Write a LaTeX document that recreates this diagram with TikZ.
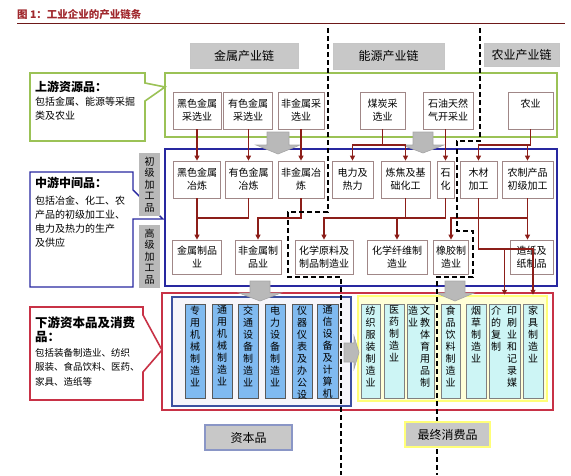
\documentclass[tikz,border=0pt]{standalone}
\usepackage{fontspec}
\setmainfont{Noto Sans CJK SC}
\usepackage{tikz}
\usetikzlibrary{arrows.meta, positioning}

\definecolor{pfeilrot}{RGB}{140,30,25}
\definecolor{kastenrand}{RGB}{160,135,135}
\definecolor{gruenrand}{RGB}{155,194,86}
\definecolor{blaurand}{RGB}{40,40,160}
\definecolor{rotrand}{RGB}{200,50,70}
\definecolor{innenblau}{RGB}{60,80,160}
\definecolor{innenfuell}{RGB}{246,245,250}
\definecolor{saeuleblau}{RGB}{128,186,240}
\definecolor{saeulecyan}{RGB}{205,245,245}
\definecolor{gelbrand}{RGB}{255,255,120}
\definecolor{gelbfuell}{RGB}{255,255,215}
\definecolor{titelrot}{RGB}{160,40,45}
\definecolor{titellinie}{RGB}{110,25,25}
\definecolor{kopfgrau}{RGB}{200,200,200}
\definecolor{seitengrau}{RGB}{185,185,185}

\tikzstyle{kasten} = [draw=kastenrand, fill=white, line width=0.7pt, align=center, inner sep=1pt, font=\fontsize{10}{13}\selectfont]
\tikzstyle{pfeil} = [pfeilrot, line width=1.1pt, -{Triangle[length=5pt,width=5pt]}]
\tikzstyle{linie} = [pfeilrot, line width=1.1pt]
\tikzstyle{grenze} = [line width=1.3pt, dash pattern=on 5pt off 3pt]
\tikzstyle{kopf} = [draw=gray!45, fill=kopfgrau, line width=0.8pt, font=\fontsize{12}{14}\selectfont]
\tikzstyle{seite} = [fill=seitengrau, minimum width=21pt, minimum height=63pt, inner sep=0pt, align=center, font=\fontsize{10}{11.5}\selectfont]
\tikzstyle{blausaeule} = [draw=black!65, fill=saeuleblau, line width=0.6pt, minimum width=20pt, minimum height=94pt, inner sep=0pt]
\tikzstyle{cyansaeule} = [draw=black!50, fill=saeulecyan, line width=0.6pt, minimum width=20pt, minimum height=94pt, inner sep=0pt]
\tikzstyle{saeulentext} = [anchor=north, align=center, inner sep=2pt, font=\fontsize{10}{12}\selectfont]
\tikzstyle{blockpfeil} = [fill=gray!55, draw=gray!70, line width=0.6pt]
\tikzstyle{sprechtext} = [anchor=north west, align=left, inner sep=0pt]

\begin{document}
\begin{tikzpicture}[x=1pt, y=-1pt]
\useasboundingbox (0,0) rectangle (571,475);

% Titel
\node[anchor=west, inner sep=0pt, text=titelrot, font=\fontsize{10.5}{12}\selectfont\bfseries] (titel) at (17,15) {图 1：工业企业的产业链条};
\draw[titellinie, line width=1pt] (17,23) -- (565,23);

% Kettenkoepfe
\node[kopf, minimum width=108pt, minimum height=25pt] (metall-kopf) at (244,55.5) {金属产业链};
\node[kopf, minimum width=111pt, minimum height=26pt] (energie-kopf) at (388.5,56) {能源产业链};
\node[kopf, minimum width=75pt, minimum height=23pt] (agrar-kopf) at (521.5,54.5) {农业产业链};

% Rahmen der drei Stufen
\node[draw=gruenrand, line width=1.8pt, minimum width=392pt, minimum height=64pt] (oben) at (361,105) {};
\node[draw=blaurand, line width=1.6pt, minimum width=392pt, minimum height=137pt] (mitte) at (361,217.5) {};
\node[draw=rotrand, line width=1.6pt, minimum width=391pt, minimum height=117pt] (unten) at (357.5,351.5) {};
\node[draw=innenblau, fill=innenfuell, line width=1.2pt, minimum width=179pt, minimum height=109pt] (kapital) at (261.5,351.5) {};
\node[draw=gelbrand, fill=gelbfuell, line width=2.5pt, minimum width=189pt, minimum height=105pt] (konsum) at (452.5,348.5) {};

% graue Blockpfeile
\filldraw[blockpfeil] (267,132) -- (289,132) -- (289,145) -- (300,145) -- (278,154) -- (256,145) -- (267,145) -- cycle;
\filldraw[blockpfeil] (413,132) -- (433,132) -- (433,145) -- (444,145) -- (423,153) -- (402,145) -- (413,145) -- cycle;
\filldraw[blockpfeil] (250,281) -- (270,281) -- (270,293) -- (281,293) -- (260,301) -- (239,293) -- (250,293) -- cycle;
\filldraw[blockpfeil] (445,281) -- (465,281) -- (465,293) -- (474,293) -- (455,301) -- (436,293) -- (445,293) -- cycle;
\filldraw[blockpfeil] (344,343) -- (354,343) -- (354,336) -- (359,352.5) -- (354,369) -- (354,362) -- (344,362) -- cycle;

% Rohstoffe
\node[kasten, minimum width=48pt, minimum height=37pt] (hei-cai) at (197,110.5) {黑色金属\\采选业};
\node[kasten, minimum width=49pt, minimum height=37pt] (you-cai) at (248,110.5) {有色金属\\采选业};
\node[kasten, minimum width=46pt, minimum height=37pt] (feijin-cai) at (301,110.5) {非金属采\\选业};
\node[kasten, minimum width=45pt, minimum height=37pt] (mei-cai) at (382.5,110.5) {煤炭采\\选业};
\node[kasten, minimum width=50pt, minimum height=37pt] (youqi-cai) at (448,110.5) {石油天然\\气开采业};
\node[kasten, minimum width=45pt, minimum height=37pt] (nong-cai) at (530.5,110.5) {农业\\\phantom{农业}};

% Erstverarbeitung
\node[kasten, minimum width=47pt, minimum height=37pt] (hei-lian) at (197,179.5) {黑色金属\\冶炼};
\node[kasten, minimum width=47pt, minimum height=37pt] (you-lian) at (248.5,179.5) {有色金属\\冶炼};
\node[kasten, minimum width=46pt, minimum height=37pt] (feijin-lian) at (301,179.5) {非金属冶\\炼};
\node[kasten, minimum width=41pt, minimum height=37pt] (dianli) at (352.5,179.5) {电力及\\热力};
\node[kasten, minimum width=49pt, minimum height=37pt] (lianjiao) at (405.5,179.5) {炼焦及基\\础化工};
\node[kasten, minimum width=17pt, minimum height=37pt] (shihua) at (445.5,179.5) {石\\化};
\node[kasten, minimum width=37pt, minimum height=37pt] (mucai) at (478.5,179.5) {木材\\加工};
\node[kasten, minimum width=51pt, minimum height=37pt] (nongpin) at (527.5,179.5) {农制产品\\初级加工};

% Weiterverarbeitung
\node[kasten, minimum width=49pt, minimum height=34pt] (jinshu-zp) at (197,257) {金属制品\\业};
\node[kasten, minimum width=46pt, minimum height=34pt] (feijin-zp) at (258,257) {非金属制\\品业};
\node[kasten, minimum width=58pt, minimum height=34pt] (huaxue-yl) at (324,257) {化学原料及\\制品制造业};
\node[kasten, minimum width=60pt, minimum height=34pt] (huaxue-xw) at (397,257) {化学纤维制\\造业};
\node[kasten, minimum width=35pt, minimum height=34pt] (xiangjiao) at (451,257) {橡胶制\\造业};
\node[kasten, minimum width=43pt, minimum height=34pt] (zaozhi) at (531.5,257) {造纸及\\纸制品};

% Kapitalgueter
\node[blausaeule] (zhuanyong) at (195,351) {};
\node[blausaeule] (tongyong) at (222,351) {};
\node[blausaeule] (jiaotong) at (248,351) {};
\node[blausaeule] (dianqi) at (275,351) {};
\node[blausaeule] (yiqi) at (302,351) {};
\node[blausaeule, minimum width=21pt] (tongxin) at (327.5,351) {};
\node[saeulentext] (zhuanyong-t) at (zhuanyong.north) {专\\用\\机\\械\\制\\造\\业};
\node[saeulentext] (tongyong-t) at (tongyong.north) {通\\用\\机\\械\\制\\造\\业};
\node[saeulentext] (jiaotong-t) at (jiaotong.north) {交\\通\\设\\备\\制\\造\\业};
\node[saeulentext] (dianqi-t) at (dianqi.north) {电\\力\\设\\备\\制\\造\\业};
\node[saeulentext] (yiqi-t) at (yiqi.north) {仪\\器\\仪\\表\\及\\办\\公\\设};
\node[saeulentext] (tongxin-t) at (tongxin.north) {通\\信\\设\\备\\及\\计\\算\\机};

% Konsumgueter
\node[cyansaeule, minimum width=19pt] (fangzhi) at (370.5,351) {};
\node[cyansaeule] (yiyao) at (394,351) {};
\node[cyansaeule, minimum width=27pt] (wenjiao) at (420.5,351) {};
\node[cyansaeule, minimum width=19pt] (shipin) at (450.5,351) {};
\node[cyansaeule] (yancao) at (476,351) {};
\node[cyansaeule, minimum width=31pt] (yinshua) at (504.5,351) {};
\node[cyansaeule] (jiaju) at (533,351) {};
\node[saeulentext] (fangzhi-t) at (fangzhi.north) {纺\\织\\服\\装\\制\\造\\业};
\node[saeulentext] (yiyao-t) at (yiyao.north) {医\\药\\制\\造\\业};
\node[saeulentext] (wenjiao-r) at (wenjiao.north -| 425,0) {文\\教\\体\\育\\用\\品\\制};
\node[saeulentext] (wenjiao-l) at (wenjiao.north -| 413,0) {造\\业};
\node[saeulentext] (shipin-t) at (shipin.north) {食\\品\\饮\\料\\制\\造\\业};
\node[saeulentext] (yancao-t) at (yancao.north) {烟\\草\\制\\造\\业};
\node[saeulentext] (yinshua-r) at (yinshua.north -| 512,0) {印\\刷\\业\\和\\记\\录\\媒};
\node[saeulentext] (yinshua-l) at (yinshua.north -| 496,0) {介\\的\\复\\制};
\node[saeulentext] (jiaju-t) at (jiaju.north) {家\\具\\制\\造\\业};

% Hilfspunkte fuer die Gabelungen
\coordinate (gabel-a) at (0,145);
\coordinate (gabel-b) at (0,218);
\coordinate (gabel-c) at (0,249);

% Pfeile: Rohstoffe -> Erstverarbeitung
\draw[pfeil] (hei-cai) -- (hei-lian);
\draw[pfeil] (you-cai.south -| you-lian.north) -- (you-lian.north);
\draw[pfeil] (feijin-cai) -- (feijin-lian);
\draw[pfeil] (mei-cai.south) |- (dianli.north |- gabel-a) -- (dianli.north);
\draw[pfeil] (mei-cai.south) |- (lianjiao.north |- gabel-a) -- (lianjiao.north);
\draw[pfeil] (youqi-cai.south -| shihua.north) -- (shihua.north);
\draw[pfeil] (nong-cai.south) |- (mucai.north |- gabel-a) -- (mucai.north);
\draw[pfeil] (nong-cai.south) |- (nongpin.north |- gabel-a) -- (nongpin.north);

% Pfeile: Erstverarbeitung -> Weiterverarbeitung
\draw[linie] (you-lian.south) |- (hei-lian.south |- gabel-b);
\draw[pfeil] (hei-lian) -- (jinshu-zp);
\draw[pfeil] (feijin-lian.south) |- (feijin-zp.north |- gabel-b) -- (feijin-zp.north);
\draw[linie] (lianjiao.south) -- (lianjiao.south |- gabel-b);
\draw[pfeil] (shihua.south) |- (huaxue-yl.north |- gabel-b) -- (huaxue-yl.north);
\draw[pfeil] (huaxue-xw.north |- gabel-b) -- (huaxue-xw.north);
\draw[pfeil] (nongpin.south) |- (xiangjiao.north |- gabel-b) -- (xiangjiao.north);
\draw[pfeil] (nongpin.south) -- (nongpin.south |- zaozhi.north);

% Pfeile: in die Konsumgueter
\draw[pfeil] (mucai.south) |- (jiaju.north |- gabel-c) -- (jiaju.north |- konsum.north);
\draw[pfeil] (yinshua.north |- gabel-c) -- (yinshua.north |- konsum.north);

% Grenzen der Ketten
\draw[grenze] (328,28) -- (328,212) -- (288,212) -- (288,277) -- (341,277) -- (341,475);
\draw[grenze] (480,28) -- (480,141) -- (457,141) -- (457,231) -- (473,231) -- (473,277) -- (437,277) -- (437,475);

% Sprechblasen links
\filldraw[fill=white, draw=gruenrand, line width=1.6pt] (30,73) -- (145,73) -- (145,83) -- (165,87) -- (145,101) -- (145,141) -- (30,141) -- cycle;
\node[sprechtext, font=\fontsize{10}{14}\selectfont] (oben-text) at (35,81) {{\fontsize{12}{14}\selectfont\bfseries 上游资源品：}\\包括金属、能源等采掘\\类及农业};

\filldraw[fill=white, draw=blaurand, line width=1.4pt] (30,172) -- (133,172) -- (133,190) -- (163,219) -- (133,219) -- (133,287) -- (30,287) -- cycle;
\node[sprechtext, font=\fontsize{10}{14}\selectfont] (mitte-text) at (35,177) {{\fontsize{12}{14}\selectfont\bfseries 中游中间品：}\\[3pt]包括冶金、化工、农\\产品的初级加工业、\\电力及热力的生产\\及供应};

\filldraw[fill=white, draw=rotrand, line width=1.6pt] (30,307) -- (143,307) -- (143,315) -- (162,350) -- (143,372) -- (143,400) -- (30,400) -- cycle;
\node[sprechtext, font=\fontsize{9.5}{14.5}\selectfont] (unten-text) at (35,316) {{\fontsize{12.5}{14.5}\selectfont\bfseries 下游资本品及消费}\\{\fontsize{12.5}{14.5}\selectfont\bfseries 品：}\\包括装备制造业、纺织\\服装、食品饮料、医药、\\家具、造纸等};

% Seitenbeschriftung
\node[seite] (erst-label) at (149.5,184.5) {初\\级\\加\\工\\品};
\node[seite] (hoch-label) at (149.5,256.5) {高\\级\\加\\工\\品};

% Beschriftung unten
\node[draw=innenblau!60, fill=kopfgrau, line width=1.2pt, minimum width=87pt, minimum height=25pt, font=\fontsize{12}{14}\selectfont] (kapital-label) at (248.5,437.5) {资本品};
\node[draw=gelbrand, fill=kopfgrau, line width=1.4pt, minimum width=85pt, minimum height=25pt, font=\fontsize{12}{14}\selectfont] (konsum-label) at (447.5,434.5) {最终消费品};

\end{tikzpicture}
\end{document}
